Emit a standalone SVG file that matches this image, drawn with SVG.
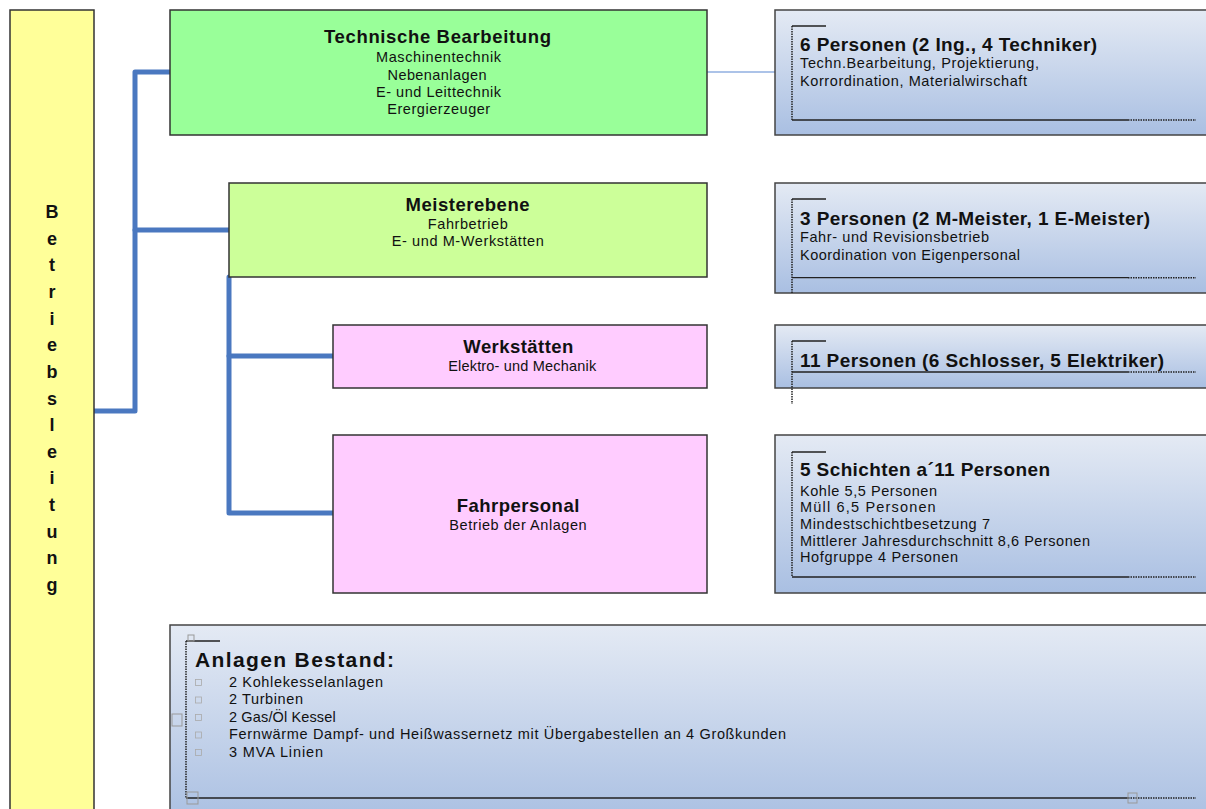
<svg xmlns="http://www.w3.org/2000/svg" width="1206" height="809" viewBox="0 0 1206 809">
<defs>
<linearGradient id="blueGrad" x1="0" y1="0" x2="0" y2="1">
<stop offset="0" stop-color="#E4EAF4"/>
<stop offset="1" stop-color="#A9BFE2"/>
</linearGradient>
<style>
.lead{fill:#FFFF99;stroke:#333;stroke-width:1.5}
.green{fill:#99FF99;stroke:#333;stroke-width:1.5}
.lgreen{fill:#CCFF99;stroke:#333;stroke-width:1.5}
.pink{fill:#FFCCFF;stroke:#333;stroke-width:1.5}
.info{fill:url(#blueGrad);stroke:#444;stroke-width:1.5}
.conn{fill:none;stroke:#4A78C0;stroke-width:5;stroke-linecap:round;stroke-linejoin:round}
.thin{fill:none;stroke:#5A88D2;stroke-width:1.2}
.br{fill:none;stroke:#222;stroke-width:1.3}
.dot{fill:none;stroke:#222;stroke-width:1.5;stroke-dasharray:1.5 1}
.sq{fill:none;stroke:#999;stroke-width:1}
.bul{fill:none;stroke:#AAA;stroke-width:0.8}
text{font-family:"Liberation Sans",Arial,sans-serif;fill:#111}
.t{font-size:18.5px;font-weight:bold;text-anchor:middle}
.s{font-size:14.5px;text-anchor:middle}
.h{font-size:19px;font-weight:bold}
.b{font-size:14.5px}
.v{font-size:18px;font-weight:bold;text-anchor:middle}
.big{font-size:21px;font-weight:bold}
</style>
</defs>
<rect width="1206" height="809" fill="#FFFFFF"/>

<g id="connectors">
<path class="conn" d="M94,411 H135 V72 H170"/>
<path class="conn" d="M135,230 H229"/>
<path class="conn" d="M229,277 V513 H333"/>
<path class="conn" d="M229,356 H333"/>
<path class="thin" d="M707,72 H775"/>
</g>

<g id="betriebsleitung">
<rect class="lead" x="10" y="10" width="84" height="810"/>
<text class="v" x="52" y="218">B</text>
<text class="v" x="52" y="244.6">e</text>
<text class="v" x="52" y="271.3">t</text>
<text class="v" x="52" y="297.9">r</text>
<text class="v" x="52" y="324.6">i</text>
<text class="v" x="52" y="351.2">e</text>
<text class="v" x="52" y="377.8">b</text>
<text class="v" x="52" y="404.5">s</text>
<text class="v" x="52" y="431.1">l</text>
<text class="v" x="52" y="457.8">e</text>
<text class="v" x="52" y="484.4">i</text>
<text class="v" x="52" y="511">t</text>
<text class="v" x="52" y="537.7">u</text>
<text class="v" x="52" y="564.3">n</text>
<text class="v" x="52" y="591">g</text>
</g>

<g id="technische-bearbeitung">
<rect class="green" x="170" y="10" width="537" height="125"/>
<text class="t" x="437.5" y="42.7" textLength="227">Technische Bearbeitung</text>
<text class="s" x="438.5" y="61.7" textLength="125">Maschinentechnik</text>
<text class="s" x="437" y="80" textLength="99">Nebenanlagen</text>
<text class="s" x="438.5" y="97" textLength="125">E- und Leittechnik</text>
<text class="s" x="438.7" y="114.3" textLength="103">Erergierzeuger</text>
</g>

<g id="meisterebene">
<rect class="lgreen" x="229" y="183" width="478" height="94"/>
<text class="t" x="467.5" y="211" textLength="124">Meisterebene</text>
<text class="s" x="467.8" y="229.3" textLength="80">Fahrbetrieb</text>
<text class="s" x="467.8" y="245.7" textLength="152">E- und M-Werkstätten</text>
</g>

<g id="werkstaetten">
<rect class="pink" x="333" y="325" width="374" height="63"/>
<text class="t" x="518.3" y="353.3" textLength="110">Werkstätten</text>
<text class="s" x="522.2" y="371" textLength="148">Elektro- und Mechanik</text>
</g>

<g id="fahrpersonal">
<rect class="pink" x="333" y="435" width="374" height="158"/>
<text class="t" x="518" y="511.7" textLength="122.7">Fahrpersonal</text>
<text class="s" x="518" y="530" textLength="137.3">Betrieb der Anlagen</text>
</g>

<g id="info-technik">
<rect class="info" x="775" y="10" width="440" height="125"/>
<path class="br" d="M792,26 H826 M792,120 H1128"/>
<path class="dot" d="M792,26 V120 M1128,120 H1196"/>
<text class="h" x="800" y="51" textLength="297">6 Personen (2 Ing., 4 Techniker)</text>
<text class="b" x="800" y="68" textLength="239">Techn.Bearbeitung, Projektierung,</text>
<text class="b" x="800" y="86" textLength="227">Korrordination, Materialwirschaft</text>
</g>

<g id="info-meister">
<rect class="info" x="775" y="183" width="440" height="110"/>
<path class="br" d="M792,199 H826 M792,277.7 H1128"/>
<path class="dot" d="M792,199 V293 M1128,277.7 H1196"/>
<text class="h" x="800" y="225" textLength="350">3 Personen (2 M-Meister, 1 E-Meister)</text>
<text class="b" x="800" y="242" textLength="189">Fahr- und Revisionsbetrieb</text>
<text class="b" x="800" y="259.5" textLength="220">Koordination von Eigenpersonal</text>
</g>

<g id="info-werkstatt">
<rect class="info" x="775" y="325" width="440" height="63"/>
<path class="br" d="M792,341 H826 M792,372 H1128"/>
<path class="dot" d="M792,341 V404 M1128,372 H1196"/>
<text class="h" x="800" y="366.7" textLength="364">11 Personen (6 Schlosser, 5 Elektriker)</text>
</g>

<g id="info-fahrpersonal">
<rect class="info" x="775" y="435" width="440" height="158"/>
<path class="br" d="M792,452 H826 M792,577 H1128"/>
<path class="dot" d="M792,452 V577 M1128,577 H1196"/>
<text class="h" x="800" y="475.7" textLength="250">5 Schichten a´11 Personen</text>
<text class="b" x="800" y="495.7" textLength="137">Kohle 5,5 Personen</text>
<text class="b" x="800" y="512.3" textLength="135.7">Müll 6,5 Personen</text>
<text class="b" x="800" y="529" textLength="190">Mindestschichtbesetzung 7</text>
<text class="b" x="800" y="545.5" textLength="290">Mittlerer Jahresdurchschnitt 8,6 Personen</text>
<text class="b" x="800" y="562" textLength="158">Hofgruppe 4 Personen</text>
</g>

<g id="anlagen-bestand">
<rect class="info" x="170" y="625" width="1050" height="200"/>
<path class="br" d="M186,641 H220 M186,798 H1128"/>
<path class="dot" d="M186,641 V798 M1128,798 H1196"/>
<rect class="sq" x="188" y="635" width="6" height="6"/>
<rect class="sq" x="172" y="714" width="10" height="12"/>
<rect class="sq" x="187" y="792" width="11" height="12"/>
<rect class="sq" x="1128" y="793" width="9" height="10"/>
<text class="big" x="195" y="666.7" textLength="199">Anlagen Bestand:</text>
<rect class="bul" x="195.5" y="679.5" width="6" height="6"/>
<rect class="bul" x="195.5" y="697" width="6" height="6"/>
<rect class="bul" x="195.5" y="714.5" width="6" height="6"/>
<rect class="bul" x="195.5" y="732" width="6" height="6"/>
<rect class="bul" x="195.5" y="749.5" width="6" height="6"/>
<text class="b" x="229" y="686.7" textLength="154">2 Kohlekesselanlagen</text>
<text class="b" x="229" y="704" textLength="74">2 Turbinen</text>
<text class="b" x="229" y="721.7" textLength="106.7">2 Gas/Öl Kessel</text>
<text class="b" x="229" y="739.3" textLength="557">Fernwärme Dampf- und Heißwassernetz mit Übergabestellen an 4 Großkunden</text>
<text class="b" x="229" y="756.7" textLength="94">3 MVA Linien</text>
</g>
</svg>
